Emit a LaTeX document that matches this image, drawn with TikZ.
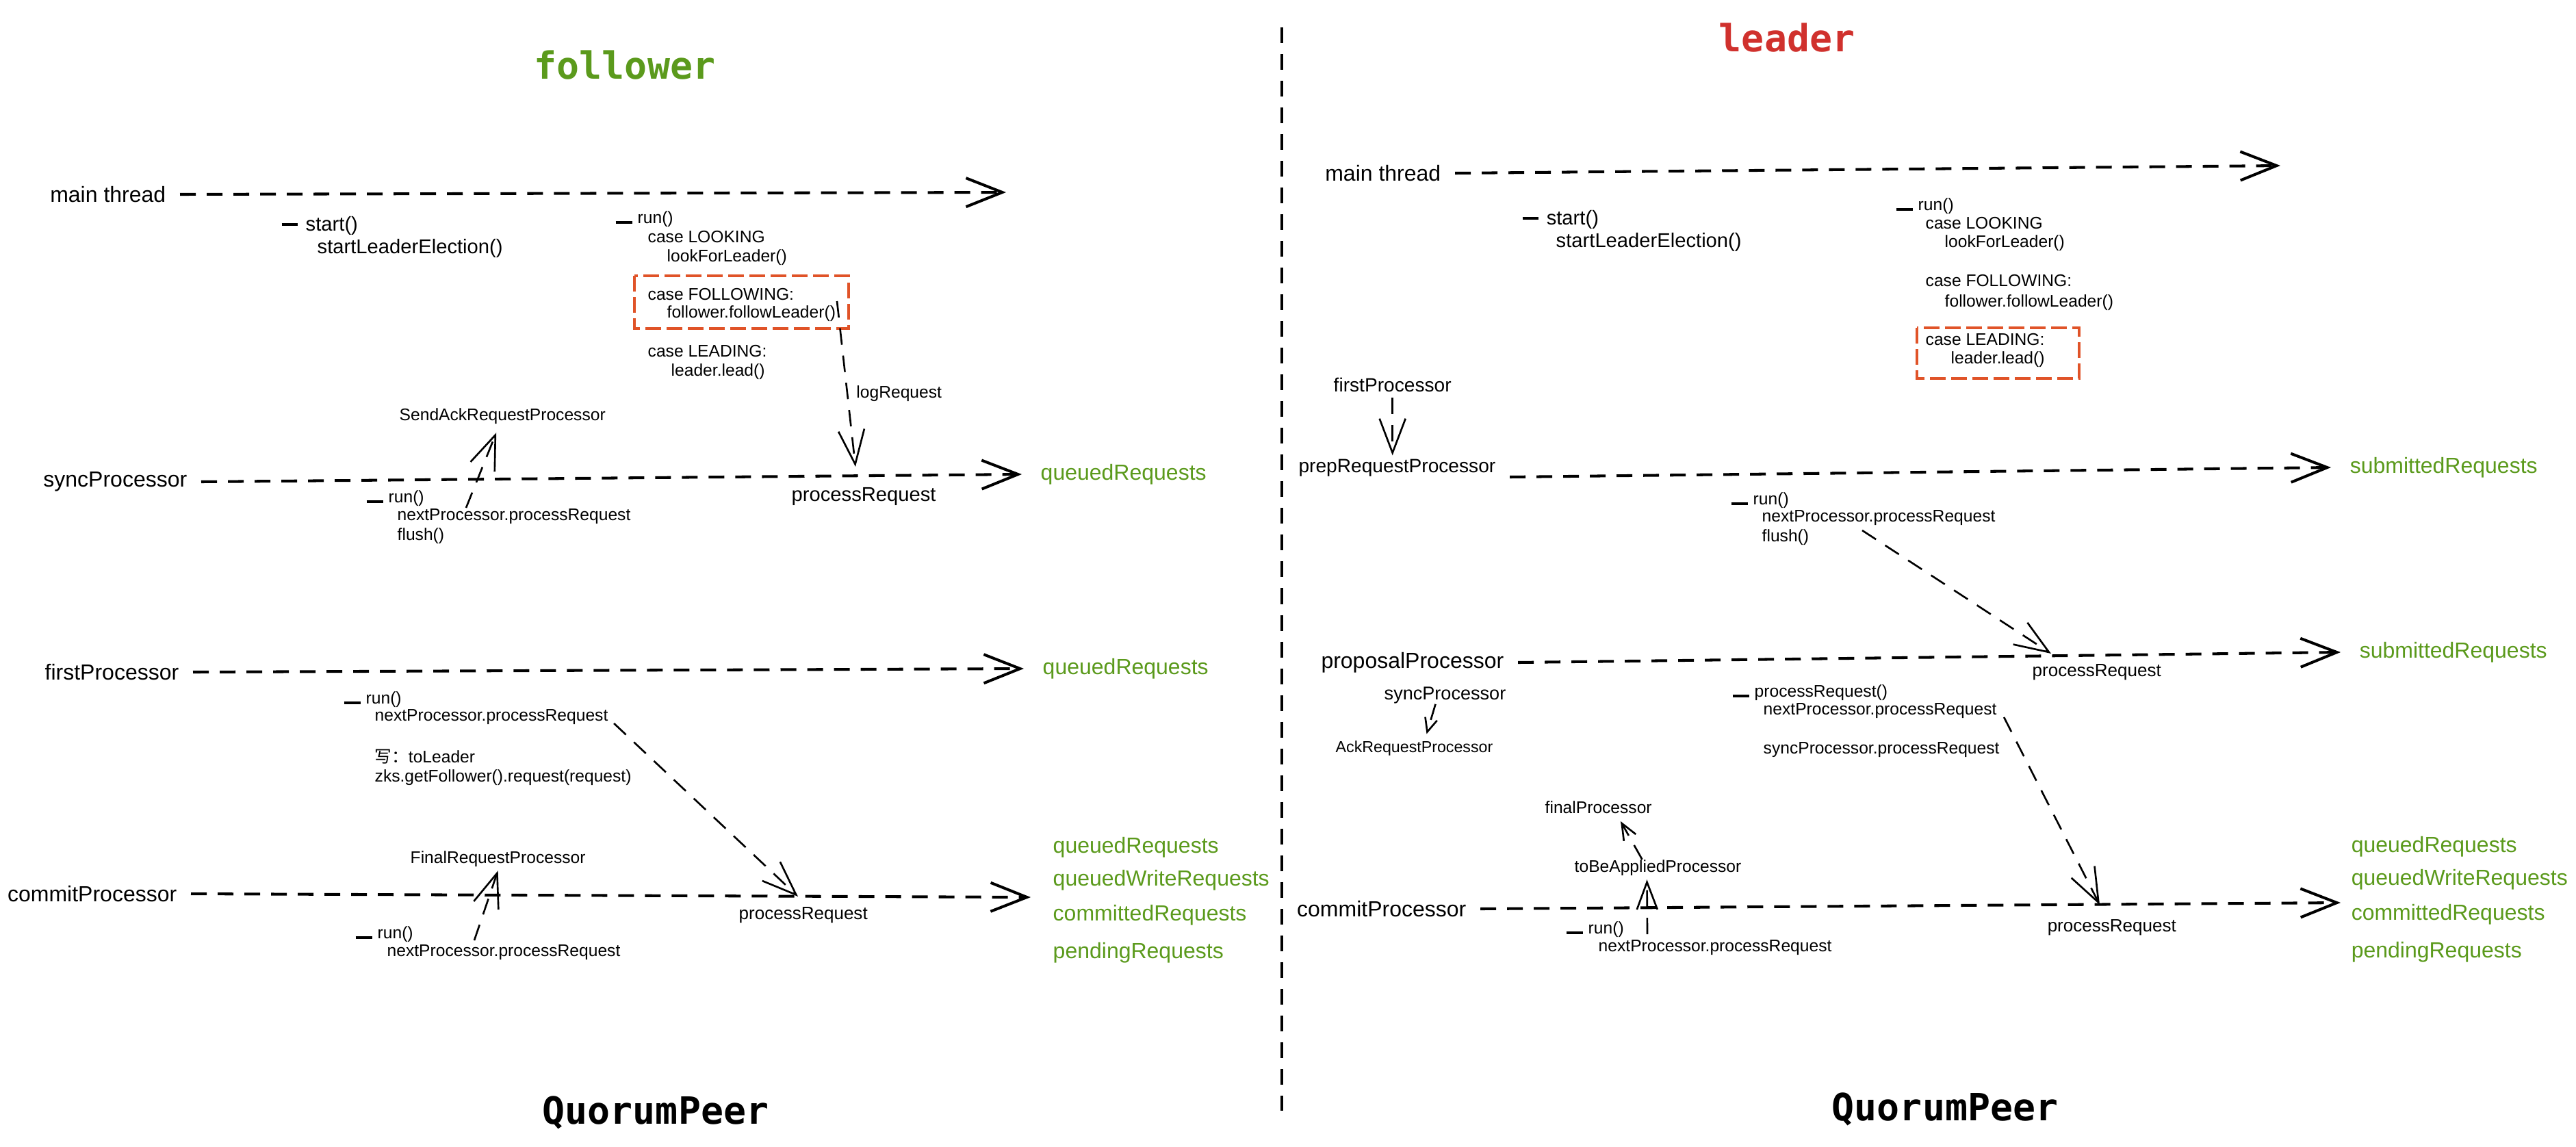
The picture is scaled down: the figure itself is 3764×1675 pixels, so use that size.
\documentclass[tikz,border=0pt]{standalone}
\usepackage{fontspec}
\setmainfont{Liberation Sans}
\setmonofont{DejaVu Sans Mono}
\newfontfamily\cjk{Noto Sans CJK SC}
\usetikzlibrary{arrows.meta}

\definecolor{qgreen}{HTML}{5B9A1C}
\definecolor{ldred}{HTML}{D0312D}
\definecolor{boxred}{HTML}{E05328}

\newcommand{\runmark}{\rule[-0.02em]{1em}{0.16em}\hspace{0.3em}}
\newcommand{\startmark}{\rule[0.25em]{0.8em}{0.14em}\hspace{0.4em}}

\tikzset{
  rowlbl/.style={font=\fontsize{9.1}{11}\selectfont, inner xsep=0.2cm, inner ysep=0pt, anchor=east},
  qlbl/.style={font=\fontsize{9.1}{11}\selectfont, text=qgreen, inner sep=0pt, anchor=west},
  midtxt/.style={font=\fontsize{8.3}{10}\selectfont, inner sep=0pt, anchor=west},
  smtxt/.style={font=\fontsize{7}{8.5}\selectfont, inner sep=0pt, anchor=west},
  peer/.style={font=\ttfamily\bfseries\fontsize{15.6}{18}\selectfont, inner sep=0pt, anchor=base},
  flow/.style={line width=1.15pt, dash pattern=on 0.23cm off 0.16cm,
    -{Straight Barb[length=0.53cm, width=0.42cm]}},
  link/.style={line width=0.75pt, dash pattern=on 0.24cm off 0.16cm,
    -{Straight Barb[length=0.5cm, width=0.38cm]}},
  divider/.style={line width=0.95pt, dash pattern=on 0.23cm off 0.16cm},
  casebox/.style={draw=boxred, line width=0.95pt, dash pattern=on 0.23cm off 0.08cm}
}

\begin{document}
\begin{tikzpicture}[x=0.01cm, y=-0.01cm]
  \fill[white] (0,0) rectangle (3764,1675);
  \useasboundingbox (0,0) rectangle (3764,1675);

  % Divisor
  \draw[divider] (1873,40) -- (1873,1623);

  % ---- follower ----
  \node[peer, text=qgreen] (fTitle) at (913,115) {follower};
  \node[peer] (fPeer) at (958,1642) {QuorumPeer};

  % Hilo principal
  \node[rowlbl] (fMain) at (263,284) {main thread};
  \coordinate (fMainEnd) at (1470,281);
  \draw[flow] (fMain.east) -- (fMainEnd);
  \node[midtxt] (fStart) at (411,330) {\startmark start()};
  \node[midtxt] (fElect) at (463,363) {startLeaderElection()};
  \node[smtxt] (fRun) at (899,320) {\runmark run()};
  \foreach \x/\y/\ttxt [count=\i] in {946/346/{case LOOKING}, 974/376/{lookForLeader()},
      946/430/{case FOLLOWING:}, 974/458/{follower.followLeader()},
      946/513/{case LEADING:}, 980/543/{leader.lead()}}
    \node[smtxt] (fCase\i) at (\x,\y) {\ttxt};
  \draw[casebox] (927,403) rectangle (1240,480);

  % syncProcessor
  \node[rowlbl] (fSync) at (294,704) {syncProcessor};
  \node[qlbl, inner xsep=0.27cm] (fSyncQ) at (1493,693) {queuedRequests};
  \draw[flow] (fSync.east) -- (fSyncQ.west);
  \node[midtxt] (fProcS) at (1156,725) {processRequest};
  \coordinate (fLogFrom) at (1223,440);
  \coordinate (fLogTip) at (1250,682);
  \draw[link] (fLogFrom) -- (fLogTip) node[smtxt, pos=0.56, right=0.12cm] (fLog) {logRequest};
  \node[smtxt] (fSendAck) at (583,608) {SendAckRequestProcessor};
  \node[smtxt] (fSyncRun) at (535,728) {\runmark run()};
  \node[smtxt] (fSyncNext) at (580,755) {nextProcessor.processRequest};
  \node[smtxt] (fFlush) at (580,783) {flush()};
  \coordinate (fAckFrom) at (681,742);
  \draw[link] (fAckFrom) -- ([xshift=-0.09cm, yshift=-0.12cm]fSendAck.south);

  % firstProcessor
  \node[rowlbl] (fFirst) at (282,982) {firstProcessor};
  \node[qlbl, inner xsep=0.27cm] (fFirstQ) at (1496,977) {queuedRequests};
  \draw[flow] (fFirst.east) -- (fFirstQ.west);
  \node[smtxt] (fFirstRun) at (502,1022) {\runmark run()};
  \node[smtxt] (fFirstNext) at (547,1048) {nextProcessor.processRequest};
  \node[smtxt] (fToLeader) at (547,1106) {{\cjk 写：}toLeader};
  \node[smtxt] (fZks) at (547,1136) {zks.getFollower().request(request)};

  % commitProcessor
  \node[rowlbl] (fCommit) at (279,1306) {commitProcessor};
  \coordinate (fCommitEnd) at (1506,1311);
  \draw[flow] (fCommit.east) -- (fCommitEnd);
  \node[smtxt, font=\fontsize{7.4}{9}\selectfont] (fProcC) at (1079,1337) {processRequest};
  \coordinate (fCommitHit) at (1166,1310);
  \draw[link] ([shift={(0.08cm,-0.09cm)}]fFirstNext.east) -- (fCommitHit);
  \node[smtxt] (fFinal) at (599,1255) {FinalRequestProcessor};
  \node[smtxt] (fCommitRun) at (519,1365) {\runmark run()};
  \node[smtxt] (fCommitNext) at (565,1392) {nextProcessor.processRequest};
  \coordinate (fFinalFrom) at (693,1374);
  \draw[link] (fFinalFrom) -- ([yshift=-0.05cm]fFinal.south);
  \foreach \y/\ttxt [count=\i] in {1238/queuedRequests, 1286/queuedWriteRequests,
      1337/committedRequests, 1392/pendingRequests}
    \node[qlbl] (fList\i) at (1538,\y) {\ttxt};

  % ---- leader ----
  \node[peer, text=ldred] (rTitle) at (2611,75) {leader};
  \node[peer] (rPeer) at (2842,1637) {QuorumPeer};

  % Hilo principal
  \node[rowlbl] (rMain) at (2126,253) {main thread};
  \coordinate (rMainEnd) at (3332,242);
  \draw[flow] (rMain.east) -- (rMainEnd);
  \node[midtxt] (rStart) at (2224,321) {\startmark start()};
  \node[midtxt] (rElect) at (2273,354) {startLeaderElection()};
  \node[smtxt] (rRun) at (2770,301) {\runmark run()};
  \foreach \x/\y/\ttxt [count=\i] in {2813/326/{case LOOKING}, 2841/355/{lookForLeader()},
      2813/410/{case FOLLOWING:}, 2841/442/{follower.followLeader()},
      2813/496/{case LEADING:}, 2850/525/{leader.lead()}}
    \node[smtxt] (rCase\i) at (\x,\y) {\ttxt};
  \draw[casebox] (2801,479) rectangle (3038,553);

  % prepRequestProcessor
  \node[midtxt, font=\fontsize{8}{10}\selectfont] (rFirstP) at (1948,562) {firstProcessor};
  \node[rowlbl, anchor=south east, font=\fontsize{8}{10}\selectfont] (rPrep) at (2206,697) {prepRequestProcessor};
  \node[qlbl, inner xsep=0.27cm] (rPrepS) at (3406,683) {submittedRequests};
  \draw[flow] (rPrep.south east) -- (rPrepS.west);
  \draw[link, shorten <=0.08cm, shorten >=0.05cm] (rFirstP.south) -- (rFirstP.south |- rPrep.north);
  \node[smtxt] (rPrepRun) at (2529,731) {\runmark run()};
  \node[smtxt] (rPrepNext) at (2574,757) {nextProcessor.processRequest};
  \node[smtxt] (rFlush) at (2574,785) {flush()};

  % proposalProcessor
  \node[rowlbl] (rProp) at (2218,968) {proposalProcessor};
  \node[qlbl, inner xsep=0.27cm] (rPropS) at (3420,953) {submittedRequests};
  \draw[flow] (rProp.east) -- (rPropS.west);
  \node[smtxt, font=\fontsize{7.4}{9}\selectfont] (rProcP) at (2969,982) {processRequest};
  \coordinate (rFlushFrom) at (2721,775);
  \coordinate (rPropHit) at (2997,955);
  \draw[link] (rFlushFrom) -- (rPropHit);
  \node[smtxt, font=\fontsize{7.7}{9}\selectfont] (rSyncP) at (2022,1016) {syncProcessor};
  \node[smtxt, font=\fontsize{6.6}{8}\selectfont] (rAck) at (1951,1093) {AckRequestProcessor};
  \draw[link, -{Straight Barb[length=0.2cm, width=0.18cm]}]
    ([xshift=-0.14cm]rSyncP.south) -- ([xshift=0.18cm, yshift=0.09cm]rAck.north);
  \node[smtxt] (rPropRun) at (2531,1012) {\runmark processRequest()};
  \node[smtxt] (rPropNext) at (2576,1039) {nextProcessor.processRequest};
  \node[smtxt] (rSyncCall) at (2576,1096) {syncProcessor.processRequest};

  % commitProcessor
  \node[rowlbl] (rCommit) at (2163,1328) {commitProcessor};
  \coordinate (rCommitEnd) at (3420,1319);
  \draw[flow] (rCommit.east) -- (rCommitEnd);
  \node[smtxt, font=\fontsize{7.4}{9}\selectfont] (rProcC) at (2991,1355) {processRequest};
  \coordinate (rCommitHit) at (3068,1322);
  \draw[link] ([shift={(0.1cm,-0.09cm)}]rPropNext.east) -- (rCommitHit);
  \node[smtxt] (rFinalP) at (2257,1180) {finalProcessor};
  \node[smtxt] (rToBe) at (2300,1268) {toBeAppliedProcessor};
  \node[smtxt] (rCommitRun) at (2288,1358) {\runmark run()};
  \node[smtxt] (rCommitNext) at (2335,1385) {nextProcessor.processRequest};
  \coordinate (rToBeFrom) at (2407,1365);
  \draw[link, -{Straight Barb[length=0.4cm, width=0.3cm]}]
    (rToBeFrom) -- ([xshift=-0.16cm, yshift=-0.05cm]rToBe.south);
  \coordinate (rFinalTip) at (2368,1200);
  \draw[link, -{Straight Barb[length=0.24cm, width=0.2cm]}]
    ([xshift=-0.23cm]rToBe.north) -- (rFinalTip);
  \foreach \y/\ttxt [count=\i] in {1237/queuedRequests, 1285/queuedWriteRequests,
      1336/committedRequests, 1391/pendingRequests}
    \node[qlbl] (rList\i) at (3435,\y) {\ttxt};
\end{tikzpicture}
\end{document}
